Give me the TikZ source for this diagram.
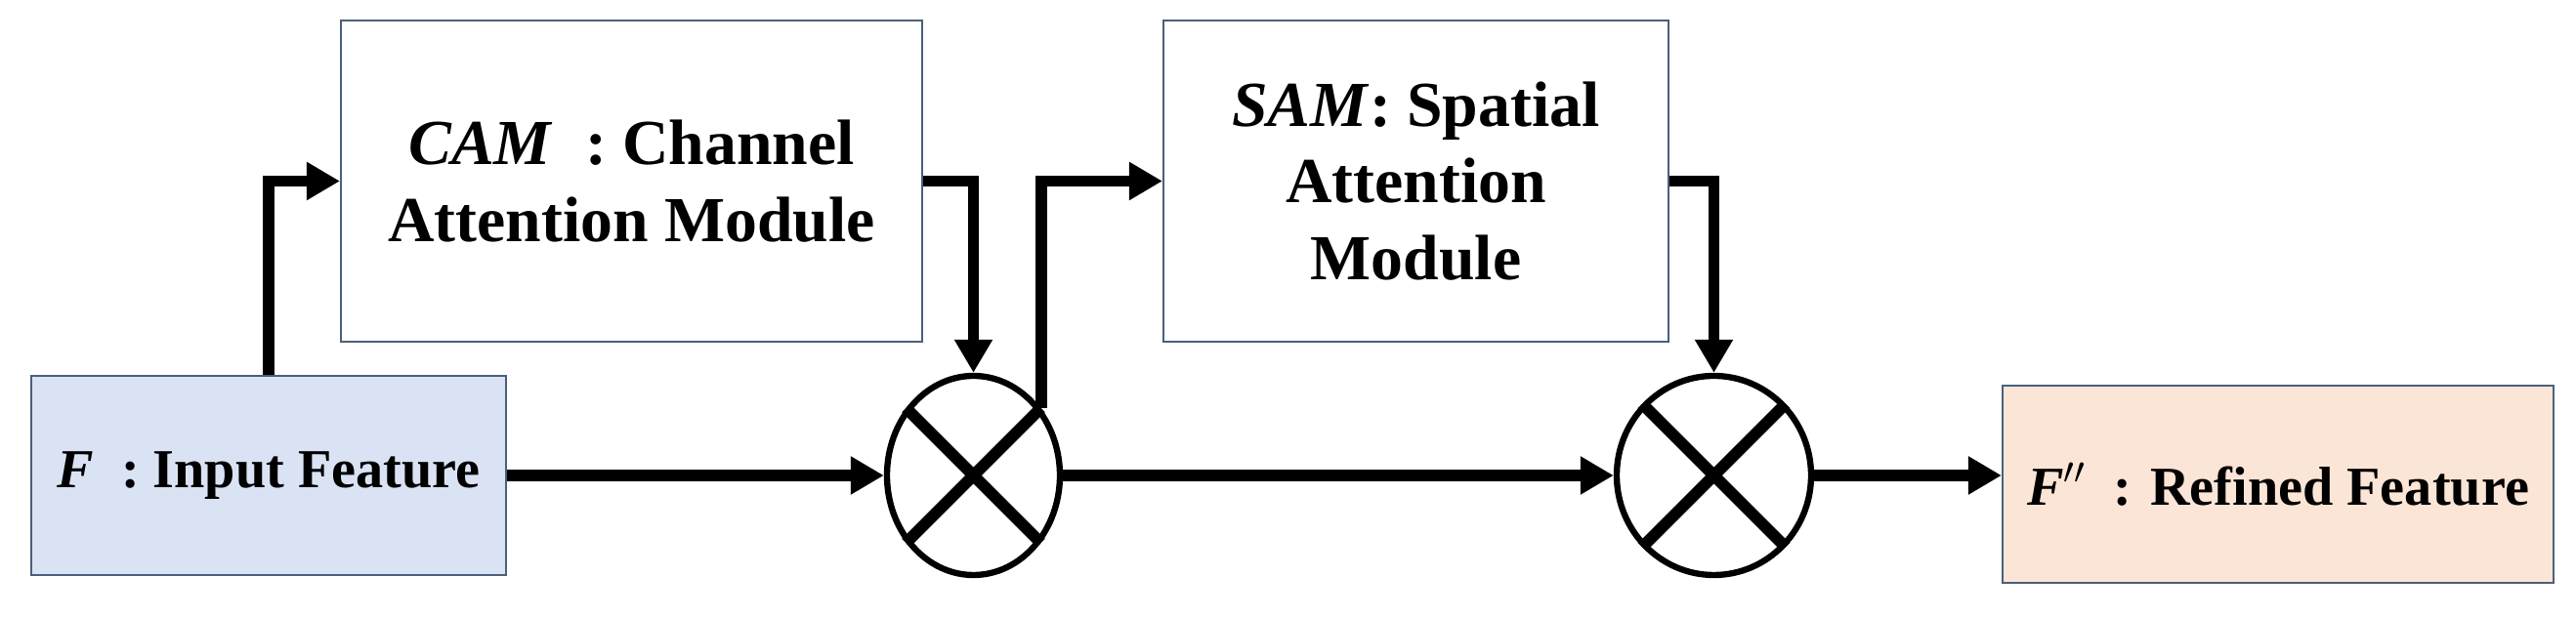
\documentclass[tikz,border=0pt]{standalone}
\usepackage{fontspec}
\setmainfont{Liberation Serif}
\usepackage{tikz}
\usetikzlibrary{arrows.meta,positioning,shapes.geometric}
\definecolor{slate}{HTML}{4B5F7B}
\definecolor{paleblue}{HTML}{DAE3F3}
\definecolor{palepeach}{HTML}{FBE5D6}

\begin{document}
\begin{tikzpicture}[>={Triangle[length=.34cm,width=.37cm]},
  box/.style={draw=slate,line width=.6pt,inner sep=0pt,align=center,
    font=\bfseries\fontsize{18.7}{22.4}\selectfont},
  small/.style={font=\bfseries\fontsize{16}{19}\selectfont},
  mul/.style={draw,ellipse,line width=1.8pt,inner sep=0pt},
  flow/.style={->,line width=3.4pt}]
  \useasboundingbox (0,0) rectangle (26.37,6.33);
  \node[box,small,fill=paleblue,minimum width=4.86cm,minimum height=2.04cm] (in) at (2.75,1.46) {\textit{F}\ \ : Input Feature};
  \node[box,minimum width=5.95cm,minimum height=3.29cm] (cam) at (6.465,4.475) {\textit{CAM}\ \ : Channel\\Attention Module};
  \node[box,minimum width=5.17cm,minimum height=3.29cm] (sam) at (14.495,4.475) {\textit{SAM}: Spatial\\Attention\\Module};
  \node[box,small,fill=palepeach,minimum width=5.64cm,minimum height=2.02cm] (out) at (23.32,1.37) {\textit{F}$''$\ \ : Refined Feature};
  \node[mul,minimum width=1.77cm,minimum height=2.04cm] (m1) at (9.965,1.46) {};
  \node[mul,minimum width=1.99cm,minimum height=2.04cm] (m2) at (17.545,1.46) {};
  \foreach \m in {m1,m2}
    \draw[line width=3.4pt] (\m.45) -- (\m.-135) (\m.135) -- (\m.-45);
  \draw[flow] (in.north) |- (cam.west);
  \draw[flow] (in.east) -- (m1.west);
  \draw[flow] (cam.east) -| (m1.north);
  \draw[flow] (m1.45) |- (sam.west);
  \draw[flow] (m1.east) -- (m2.west);
  \draw[flow] (sam.east) -| (m2.north);
  \draw[flow] (m2.east) -- (m2.east -| out.west);
\end{tikzpicture}
\end{document}
